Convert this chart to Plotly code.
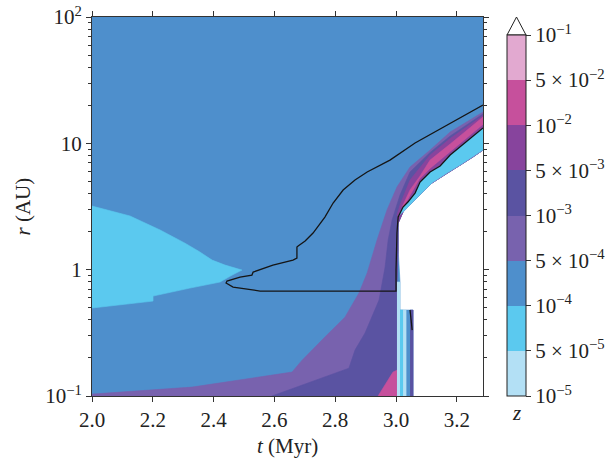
import plotly.graph_objects as go

# ---------------- colour levels (z) ----------------
level_labels = ["10<sup>−5</sup>", "5 × 10<sup>−5</sup>", "10<sup>−4</sup>", "5 × 10<sup>−4</sup>",
                "10<sup>−3</sup>", "5 × 10<sup>−3</sup>", "10<sup>−2</sup>", "5 × 10<sup>−2</sup>",
                "10<sup>−1</sup>"]
band_colors = ["#b3e0f5", "#5bc9ef", "#4e8fcc", "#7862ae",
               "#5a53a2", "#87449d", "#c6509c", "#e2a9d0"]

# ---------------- axis ticks ----------------
x_ticks = [2.0, 2.2, 2.4, 2.6, 2.8, 3.0, 3.2]
y_ticks = [0.1, 1, 10, 100]
y_tick_text = ["10<sup>−1</sup>", "1", "10", "10<sup>2</sup>"]

# ---------------- region boundaries (t in Myr, r in AU) ----------------
# edge of the no-data (white) area, from the bottom of the narrow strip to the right border
edge_t = [3.056, 3.056, 3.013, 3.013, 3.007, 3.007, 3.023, 3.046, 3.072, 3.118, 3.168, 3.211, 3.253, 3.286]
edge_r = [0.1, 0.479, 0.479, 0.798, 1.43, 2.34, 2.86, 3.25, 3.76, 4.85, 5.82, 6.73, 7.79, 8.85]

# 5e-5 .. 1e-4 region on the left
cyan_t = [2.0, 2.125, 2.224, 2.306, 2.355, 2.395, 2.4375, 2.493, 2.461, 2.421, 2.322, 2.2007, 2.2007, 2.0]
cyan_r = [3.19, 2.66, 2.06, 1.62, 1.38, 1.19, 1.087, 0.993, 0.906, 0.798, 0.715, 0.618, 0.564, 0.497]

# outer edge of the 5e-4 .. 1e-3 region
violet_t = [2.0, 2.329, 2.658, 2.691, 2.766, 2.832, 2.878, 2.905, 2.9375, 2.970, 3.003, 3.046, 3.112, 3.178, 3.286]
violet_r = [0.1035, 0.1176, 0.1546, 0.192, 0.293, 0.421, 0.653, 0.940, 1.715, 2.96, 4.51, 6.49, 8.85, 12.29, 17.69]

# outer edge of the 1e-3 .. 5e-3 region
indigo_t = [2.592, 2.766, 2.845, 2.865, 2.898, 2.944, 2.964, 2.974, 2.987, 3.013, 3.046, 3.112, 3.178, 3.286]
indigo_r = [0.1, 0.141, 0.166, 0.231, 0.315, 0.574, 1.048, 1.715, 2.47, 3.90, 5.93, 8.46, 11.42, 17.1]

# outer edge of the 5e-3 .. 1e-2 band
purple_t = [3.003, 3.013, 3.046, 3.112, 3.178, 3.286]
purple_r = [2.71, 3.25, 5.12, 8.08, 10.91, 16.6]

# outer edge of the 1e-2 .. 5e-2 band
magenta_t = [3.020, 3.046, 3.079, 3.112, 3.178, 3.286]
magenta_r = [3.13, 4.27, 5.51, 7.37, 9.87, 16.15]

# inner edge of the 1e-2 .. 5e-2 band
inner_t = [3.030, 3.046, 3.079, 3.112, 3.178, 3.234, 3.286]
inner_r = [3.25, 3.83, 5.22, 6.26, 8.53, 11.02, 13.96]

# 1e-2 .. 5e-2 patch at the bottom
mag_low_t = [2.941, 2.990, 3.003, 3.003]
mag_low_r = [0.1, 0.1546, 0.160, 0.1]

# thin columns of the strip just after t = 3 Myr (t_left, t_right, r_top, level)
strip_t0 = [3.003, 3.013, 3.023, 3.046]
strip_t1 = [3.013, 3.023, 3.033, 3.056]
strip_rtop = [0.798, 0.479, 0.479, 0.479]
strip_level = [0, 1, 0, 4]

# black contour line
line_t = [3.286, 3.178, 3.0625, 2.980, 2.905, 2.865, 2.826, 2.793, 2.766, 2.727, 2.701, 2.678, 2.674,
          2.674, 2.661, 2.595, 2.530, 2.526, 2.487, 2.444, 2.441, 2.464, 2.520, 2.553, 3.0, 3.0,
          3.003, 3.007, 3.023, 3.039, 3.0625, 3.079, 3.112, 3.145, 3.178, 3.234, 3.286]
line_r = [20.1, 14.48, 10.06, 7.37, 5.93, 5.12, 4.27, 3.37, 2.61, 1.95, 1.684, 1.538, 1.51,
          1.235, 1.19, 1.087, 0.957, 0.906, 0.874, 0.812, 0.783, 0.728, 0.690, 0.677, 0.677, 0.993,
          1.95, 2.61, 3.13, 3.43, 4.04, 4.94, 5.93, 6.61, 8.08, 10.43, 13.22]
INNER_START = 27  # index where the line starts following the white edge (r = 2.61)
# short contour in the strip
line2_t = [3.046, 3.049, 3.053]
line2_r = [0.479, 0.399, 0.332]

T_MIN, T_MAX = 2.0, 3.286

fig = go.Figure()


def poly(ts, rs, level):
    c = band_colors[level]
    fig.add_trace(go.Scatter(x=ts, y=rs, mode="lines", fill="toself", fillcolor=c,
                             line=dict(width=0.6, color=c), hoverinfo="skip", showlegend=False))


up_t = edge_t[5:][::-1]
up_r = edge_r[5:][::-1]

# background level 1e-4..5e-4 over the data domain
poly([T_MIN, T_MIN, T_MAX] + edge_t[::-1], [0.1, 100, 100] + edge_r[::-1], 2)
# left cyan
poly(cyan_t, cyan_r, 1)
# violet
poly(violet_t + up_t + [3.007, 3.003, 3.003, T_MIN],
     violet_r + up_r + [1.43, 0.798, 0.1, 0.1], 3)
# indigo
poly(indigo_t + up_t + [3.007, 3.003, 3.003],
     indigo_r + up_r + [1.43, 0.798, 0.1], 4)
# bottom magenta patch
poly(mag_low_t, mag_low_r, 6)
# purple band
poly(purple_t + up_t, purple_r + up_r, 5)
# magenta band
poly(magenta_t + edge_t[6:][::-1], magenta_r + edge_r[6:][::-1], 6)
# inner purple
poly(inner_t + edge_t[7:][::-1], inner_r + edge_r[7:][::-1], 5)
# cyan just inside the contour line
poly(line_t[INNER_START:] + edge_t[6:][::-1], line_r[INNER_START:] + edge_r[6:][::-1], 1)
# strip columns
for a, b, rt, lv in zip(strip_t0, strip_t1, strip_rtop, strip_level):
    poly([a, b, b, a], [0.1, 0.1, rt, rt], lv)

# contour lines
fig.add_trace(go.Scatter(x=line_t, y=line_r, mode="lines", line=dict(color="#151515", width=1.3),
                         hoverinfo="skip", showlegend=False))
fig.add_trace(go.Scatter(x=line2_t, y=line2_r, mode="lines", line=dict(color="#151515", width=1.3),
                         hoverinfo="skip", showlegend=False))

# colour bar carrier (points lie outside the axis range)
n = len(band_colors)
cscale = []
for i, c in enumerate(band_colors):
    cscale += [[i / n, c], [(i + 1) / n, c]]
fig.add_trace(go.Scatter(
    x=[2.5, 2.6], y=[1000, 1000], mode="markers", hoverinfo="skip", showlegend=False,
    marker=dict(color=[0, n], cmin=0, cmax=n, colorscale=cscale, showscale=True, size=1,
                colorbar=dict(x=1.0614, xanchor="left", y=0, yanchor="bottom", len=0.9525,
                              lenmode="fraction", thickness=19, thicknessmode="pixels",
                              outlinewidth=1, outlinecolor="#222", xpad=0, ypad=0,
                              tickvals=list(range(n + 1)), ticktext=level_labels,
                              ticks="outside", ticklen=5, tickcolor="#333", tickwidth=1,
                              tickfont=dict(family="Liberation Serif", size=21, color="#222")))))

font = dict(family="Liberation Serif", size=21, color="#222")
fig.update_layout(
    width=616, height=461, margin=dict(l=92, r=133, t=17, b=65, autoexpand=False),
    paper_bgcolor="white", plot_bgcolor="white", font=font,
    xaxis=dict(range=[T_MIN, T_MAX], tickvals=x_ticks, tickformat=".1f", ticks="outside", ticklen=5,
               tickcolor="#333", showline=True, linecolor="#333", linewidth=1, mirror="ticks",
               showgrid=False, zeroline=False, tickfont=font, ticklabeloverflow="allow"),
    yaxis=dict(type="log", range=[-1, 2], tickvals=y_ticks, ticktext=y_tick_text,
               tickmode="array", ticks="outside", ticklabeloverflow="allow",
               ticklen=5, tickcolor="#333", showline=True, linecolor="#333", linewidth=1,
               mirror="ticks", showgrid=False, zeroline=False, tickfont=font,
               minor=dict(ticks="outside", ticklen=3, tickcolor="#333",
                          tickvals=[0.2, 0.3, 0.4, 0.5, 0.6, 0.7, 0.8, 0.9,
                                    2, 3, 4, 5, 6, 7, 8, 9, 20, 30, 40, 50, 60, 70, 80, 90])),
    annotations=[
        dict(text="<i>t</i> (Myr)", xref="paper", yref="paper", x=0.5, y=-0.132,
             xanchor="center", yanchor="middle", showarrow=False, font=font),
        dict(text="<i>r</i> (AU)", xref="paper", yref="paper", x=-0.179, y=0.5, textangle=-90,
             xanchor="center", yanchor="middle", showarrow=False, font=font),
        dict(text="<i>z</i>", xref="paper", yref="paper", x=1.085, y=-0.045,
             xanchor="center", yanchor="middle", showarrow=False, font=font),
    ],
    shapes=[dict(type="path", xref="paper", yref="paper",
                 path="M 1.0614,0.9525 L 1.0857,1.0 L 1.110,0.9525 Z",
                 fillcolor="white", line=dict(color="#222", width=1))],
)

# remove the default 8 px page margin so the figure fills the window exactly
fig.write_html("out.html", config={"displayModeBar": False},
               post_script="document.body.style.margin='0px';")
